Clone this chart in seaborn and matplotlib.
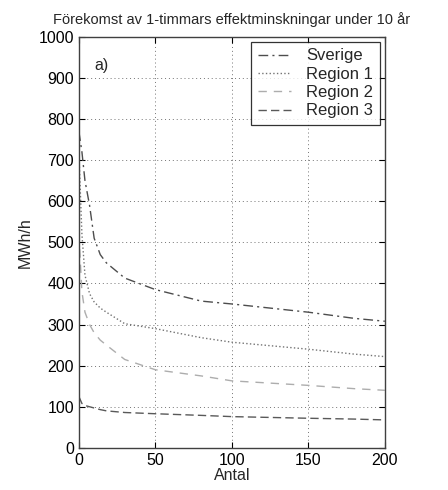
import matplotlib
matplotlib.use("Agg")
import matplotlib.pyplot as plt
import seaborn as sns
import pandas as pd

antal = [0, 2, 4, 7, 10, 14, 18, 30, 50, 80, 100, 150, 180, 200]
sverige = [770, 720, 650, 590, 510, 470, 450, 413, 385, 357, 350, 330, 315, 308]
region1 = [720, 520, 420, 375, 355, 340, 330, 302, 290, 268, 257, 240, 228, 222]
region2 = [520, 380, 330, 300, 280, 262, 250, 215, 190, 175, 163, 152, 144, 140]
region3 = [125, 108, 103, 100, 97, 93, 90, 86, 83, 79, 76, 72, 70, 68]

names = ["Sverige", "Region 1", "Region 2", "Region 3"]
series = [sverige, region1, region2, region3]
styles = [(0, (7, 3, 1.5, 3)), ":", (0, (6, 5)), (0, (6, 3))]
colors = ["0.3", "0.45", "0.68", "0.35"]

sns.set_style("white")
plt.rcParams["font.family"] = ["Liberation Sans", "DejaVu Sans"]

fig = plt.figure(figsize=(4.48, 4.90), dpi=100)
ax = fig.add_axes([0.176, 0.086, 0.683, 0.839])

for name, vals, ls, c in zip(names, series, styles, colors):
    df = pd.DataFrame({"Antal": antal, "MWh/h": vals})
    sns.lineplot(data=df, x="Antal", y="MWh/h", ax=ax, color=c,
                 linestyle=ls, linewidth=1.0, label=name)

ax.set_xlim(0, 200)
ax.set_ylim(0, 1000)
ax.set_xticks([0, 50, 100, 150, 200])
ax.set_yticks(range(0, 1001, 100))
ax.grid(True, linestyle=(0, (1, 3)), color="0.45", linewidth=0.7)
ax.tick_params(direction="in", length=4, labelsize=11.5, top=True, right=True,
               bottom=True, left=True, colors="black")
for s in ax.spines.values():
    s.set_color("0.25")
    s.set_linewidth(1.0)

ax.set_xlabel("Antal", fontsize=11.5, labelpad=0)
ax.set_ylabel("MWh/h", fontsize=11.5, labelpad=4)
ax.set_title("Förekomst av 1-timmars effektminskningar under 10 år",
             fontsize=10.5, pad=9)
ax.text(0.05, 0.92, "a)", transform=ax.transAxes, fontsize=11.5)

leg = ax.legend(loc="upper right", fontsize=12, frameon=True, fancybox=False,
                handlelength=2.0, borderaxespad=0.3, labelspacing=0.2,
                borderpad=0.4, handletextpad=0.9)
leg.get_frame().set_edgecolor("black")
leg.get_frame().set_linewidth(0.9)

fig.savefig("out.png", dpi=100)
